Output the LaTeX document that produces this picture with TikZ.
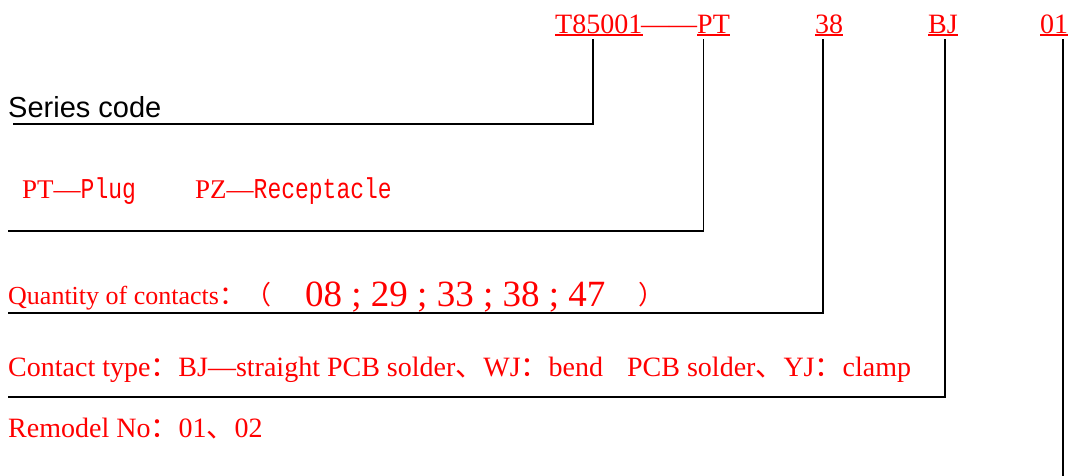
\documentclass[tikz,border=0pt]{standalone}
\usepackage{fontspec}
\setmainfont{Liberation Serif}
\setsansfont{Liberation Sans}
\setmonofont{Liberation Mono}
\newfontfamily\cjk{Noto Sans CJK SC}

\tikzset{
  code/.style={text=red,inner sep=0pt,anchor=base west,font=\fontsize{28}{28}\selectfont},
  desc/.style={text=red,inner sep=0pt,anchor=base west,font=\fontsize{26}{26}\selectfont},
  lead/.style={line width=1.8pt,black},
  ul/.style={line width=1.8pt,red}
}
\newcommand{\tallmono}[1]{\scalebox{1}[1.25]{\ttfamily\fontsize{23}{23}\selectfont #1}}

\begin{document}
\begin{tikzpicture}[x=1pt,y=-1pt,line cap=butt,line join=miter]
\useasboundingbox (0,0) rectangle (1068,475);

% ---- code along the top ----
\node[code] (ser) at (555,33) {T85001};
\node[code] (dsh) at (641,33) {——};
\node[code] (pt)  at (697,33) {PT};
\node[code] (qty) at (815,33) {38};
\node[code] (ct)  at (928,33) {BJ};
\node[code] (rm)  at (1040,33) {01};

\foreach \c in {ser,pt,qty,ct,rm}
  \draw[ul] ([yshift=-2pt]\c.base west) -- ([yshift=-2pt]\c.base east);

% ---- descriptions ----
\node[inner sep=0pt,anchor=base west,font=\sffamily\fontsize{29}{29}\selectfont] (serTxt) at (8,117) {Series code};

\node[desc,font=\fontsize{27}{27}\selectfont] (plug) at (22,198) {PT—\tallmono{Plug}};
\node[desc,font=\fontsize{27}{27}\selectfont] (rcpt) at (195,198) {PZ—\tallmono{Receptacle}};

\node[desc] (qtyTxt) at (8,304) {Quantity of contacts{\cjk ：（}};
\node[desc,font=\fontsize{37}{37}\selectfont] (qtyNum) at (305,306) {08 ; 29 ; 33 ; 38 ; 47};
\node[desc] (qtyEnd) at (638,304) {{\cjk ）}};

\node[desc,font=\fontsize{28}{28}\selectfont] (ctTxt) at (8,376) {Contact type{\cjk ：}BJ—straight PCB solder{\cjk 、}WJ{\cjk ：}bend\hspace{24pt}PCB solder{\cjk 、}YJ{\cjk ：}clamp};

\node[desc,font=\fontsize{28}{28}\selectfont] (rmTxt) at (8,437) {Remodel No{\cjk ：}01{\cjk 、}02};

% ---- leader lines ----
\coordinate (serL) at (13,124);
\coordinate (ptL)  at (8,231);
\coordinate (qtyL) at (8,313);
\coordinate (ctL)  at (8,397);
\coordinate (rmL)  at (1063,476);

\draw[lead] ([xshift=-5.5pt,yshift=-6pt]ser.base) |- (serL);
\draw[lead] ([xshift=-10pt,yshift=-6pt]pt.base) |- (ptL);
\draw[lead] ([xshift=-6pt,yshift=-6pt]qty.base) |- (qtyL);
\draw[lead] ([xshift=2pt,yshift=-6pt]ct.base) |- (ctL);
\draw[lead] (rmL |- rm.base) ++(0,6) -- (rmL);
\end{tikzpicture}
\end{document}
